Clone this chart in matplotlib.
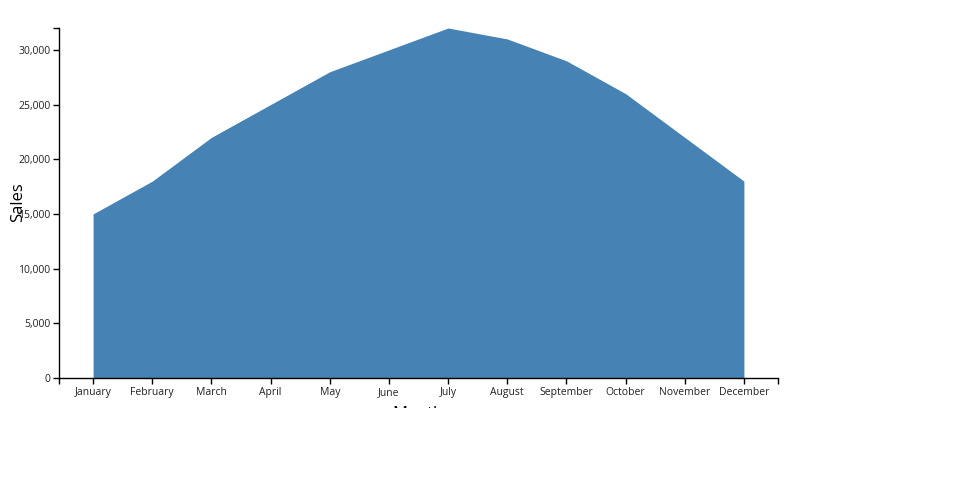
import matplotlib.pyplot as plt
from matplotlib.patches import Rectangle
from matplotlib.ticker import FuncFormatter, FixedLocator

months = ["January", "February", "March", "April", "May", "June",
          "July", "August", "September", "October", "November", "December"]
sales = [15000, 18000, 22000, 25000, 28000, 30000,
         32000, 31000, 29000, 26000, 22000, 18000]
y_ticks = [0, 5000, 10000, 15000, 20000, 25000, 30000]

plt.rcParams["font.family"] = ["Open Sans", "DejaVu Sans"]

W, H = 960, 500
fig = plt.figure(figsize=(9.6, 5.0), dpi=100)
ax = fig.add_axes([59 / W, (H - 378) / H, (778 - 59) / W, (378 - 28) / H])

x = list(range(len(months)))
ax.fill_between(x, 0, sales, color="#4682b4", lw=0)

pad = 34 / 59
ax.set_xlim(-pad, len(months) - 1 + pad)
ax.set_ylim(0, max(sales))

ax.set_xticks(x)
ax.set_xticklabels(months)
ax.xaxis.set_minor_locator(FixedLocator([-pad, len(months) - 1 + pad]))
ax.set_yticks(y_ticks)
ax.yaxis.set_major_formatter(FuncFormatter(lambda v, p: f"{int(v):,}"))
ax.yaxis.set_minor_locator(FixedLocator([max(sales)]))

for s in ["top", "right"]:
    ax.spines[s].set_visible(False)
for s in ["left", "bottom"]:
    ax.spines[s].set_linewidth(1.0)

ax.tick_params(which="both", length=4.3, width=1.0, color="black",
               labelsize=7.5, labelcolor="#222222", pad=2)

fig.text(18 / W, 1 - 202 / H, "Sales", rotation=90, ha="center", va="center",
         fontsize=12, color="black")

# x label is cut off by the bottom of the drawing area
t = fig.text(418 / W, 1 - 414 / H, "Month", ha="center", va="center",
             fontsize=12, color="black")
clip = Rectangle((0, 1 - 408 / H), 1, 408 / H, transform=fig.transFigure,
                 visible=False)
fig.add_artist(clip)
t.set_clip_path(clip)
t.set_clip_on(True)

fig.savefig("out.png", dpi=100)
